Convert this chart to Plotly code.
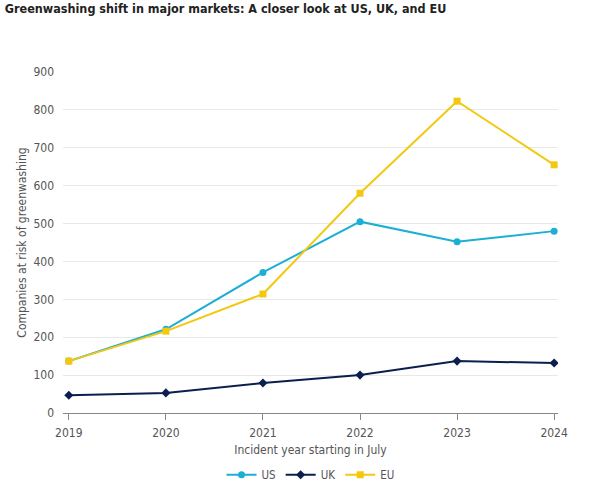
import plotly.graph_objects as go

years = [2019, 2020, 2021, 2022, 2023, 2024]
us = [137, 221, 371, 505, 452, 480]
uk = [47, 53, 79, 100, 137, 132]
eu = [137, 216, 314, 580, 823, 655]

FONT = "DejaVu Sans Condensed, Open Sans"

fig = go.Figure()
fig.add_trace(go.Scatter(x=years, y=us, name="US", mode="lines+markers",
                         line=dict(color="#1bafd6", width=2),
                         marker=dict(symbol="circle", size=7, color="#1bafd6")))
fig.add_trace(go.Scatter(x=years, y=uk, name="UK", mode="lines+markers",
                         line=dict(color="#0b1f4f", width=2),
                         marker=dict(symbol="diamond", size=7, color="#0b1f4f")))
fig.add_trace(go.Scatter(x=years, y=eu, name="EU", mode="lines+markers",
                         line=dict(color="#f2c811", width=2),
                         marker=dict(symbol="square", size=7, color="#f2c811")))

fig.update_layout(
    width=600, height=482,
    paper_bgcolor="white", plot_bgcolor="white",
    margin=dict(l=63, r=42, t=72, b=69, autoexpand=False),
    font=dict(family=FONT, size=12, color="#555555"),
    title=dict(text="<b>Greenwashing shift in major markets: A closer look at US, UK, and EU</b>",
               x=0.008, xanchor="left", y=0.992, yanchor="top",
               font=dict(family=FONT, size=12.5, color="#222222")),
    showlegend=True,
    legend=dict(orientation="h", x=0.5, xanchor="center", yref="container", y=0.015, yanchor="middle",
                font=dict(size=11.5, color="#555555"), itemwidth=30),
    xaxis=dict(range=[2018.94, 2024.04], tickmode="array", tickvals=years,
               ticktext=[str(y) for y in years], showgrid=False, automargin=False,
               showline=True, linecolor="#888888", linewidth=1,
               ticks="outside", ticklen=6, tickcolor="#888888", ticklabelstandoff=3,
               title=dict(text="Incident year starting in July", standoff=6,
                          font=dict(size=12, color="#555555")),
               zeroline=False),
    yaxis=dict(range=[0, 900], tickvals=[0, 100, 200, 300, 400, 500, 600, 700, 800, 900],
               showgrid=True, gridcolor="#e8e8e8", gridwidth=1, zeroline=False, automargin=False,
               showline=False, ticks="", ticklabelstandoff=8,
               title=dict(text="Companies at risk of greenwashing", standoff=4,
                          font=dict(size=12, color="#555555"))),
)

fig.write_html("out.html", config={"displayModeBar": False},
               post_script="document.body.style.margin='0px';")
